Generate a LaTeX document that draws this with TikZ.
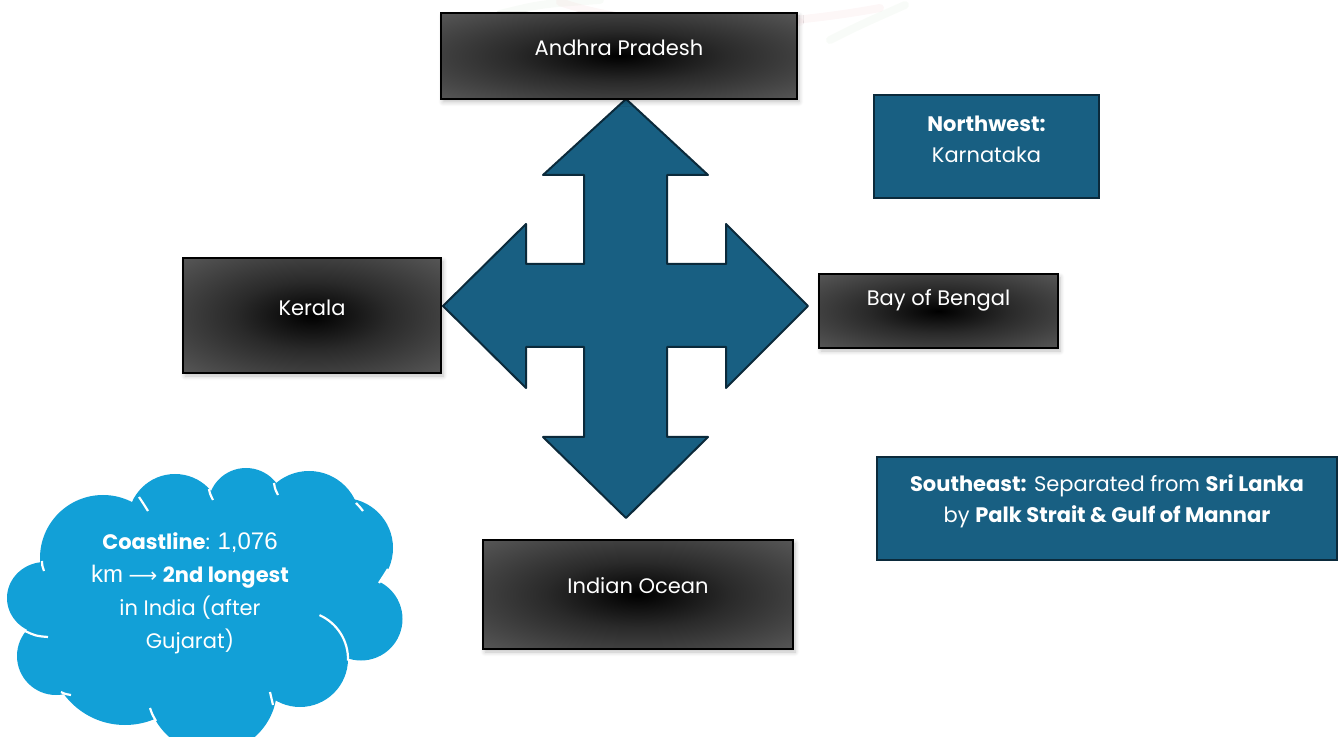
\documentclass[tikz,border=0pt]{standalone}
\usepackage{fontspec}
\setmainfont{Poppins}
\newfontfamily\arialf{Liberation Sans}
\newfontfamily\dejaf{DejaVu Sans}
\usetikzlibrary{shadows.blur}
\definecolor{crossblue}{HTML}{185F82}
\definecolor{crossline}{HTML}{0B2A3B}
\definecolor{cloudblue}{HTML}{12A0D7}
\definecolor{boxgray}{HTML}{5C5C5C}
\definecolor{boxmid}{HTML}{2A2A2A}
\definecolor{wmpink}{HTML}{F3C6CC}
\definecolor{wmgreen}{HTML}{D3E6CF}
\pgfdeclareradialshading{boxshade}{\pgfpoint{0bp}{0bp}}{color(0bp)=(black); color(15bp)=(boxmid); color(38bp)=(boxgray); color(50bp)=(boxgray)}
\begin{document}
\begin{tikzpicture}[x=0.5pt,y=-0.5pt,
  graybox/.style={draw=black, line width=0.8pt, shading=boxshade, inner sep=0pt,
    blur shadow={shadow xshift=1pt, shadow yshift=-1.5pt, shadow blur steps=6, shadow opacity=25}},
  bluebox/.style={draw=crossline, line width=1.2pt, fill=crossblue, inner sep=0pt},
  wtxt/.style={text=white, font=\fontsize{10.5}{15.5}\selectfont, align=center, inner sep=0pt},
  crossst/.style={draw=crossline, line width=1pt, fill=crossblue, line join=round},
  cloudarc/.style={draw=white, line width=1.1pt}
]
\useasboundingbox (0,0) rectangle (1339,737);

% faint watermark at the top
\begin{scope}[line width=4pt, line cap=round, opacity=0.15]
  \draw[wmpink] (560,2) .. controls (640,30) and (760,30) .. (880,8);
  \draw[wmgreen] (500,14) .. controls (540,4) .. (600,0);
  \draw[wmgreen] (830,40) .. controls (860,25) .. (905,5);
  \draw[wmpink!70!white] (700,22) -- (800,22);
\end{scope}

% four-way arrow
\draw[crossst] (626,99) -- (708,175) -- (667,175) -- (667,264) -- (726,264) -- (726,224)
  -- (808,306) -- (726,388) -- (726,347) -- (667,347) -- (667,437) -- (708,437)
  -- (626,518) -- (543,437) -- (584,437) -- (584,347) -- (526,347) -- (526,388)
  -- (443,306) -- (526,224) -- (526,264) -- (584,264) -- (584,175) -- (543,175) -- cycle;

% gray boxes
\node[graybox, minimum width=178pt, minimum height=43pt] (ap) at (619,56) {};
\node[wtxt] (apt) at ([yshift=4pt]ap.center) {Andhra Pradesh};

\node[graybox, minimum width=129pt, minimum height=57.5pt] (ke) at (312,315.5) {};
\node[wtxt] (ket) at ([yshift=4pt]ke.center) {Kerala};

\node[graybox, minimum width=119.5pt, minimum height=37pt] (bb) at (938.5,311) {};
\node[wtxt] (bbt) at ([yshift=5.5pt]bb.center) {Bay of Bengal};

\node[graybox, minimum width=155pt, minimum height=54.5pt] (io) at (638,594.5) {};
\node[wtxt] (iot) at ([yshift=4.5pt]io.center) {Indian Ocean};

% blue boxes
\node[bluebox, minimum width=112.5pt, minimum height=51.5pt] (nw) at (986.5,146.5) {};
\node[wtxt] (nwt) at ([yshift=3.5pt]nw.center) {\textbf{Northwest:}\\Karnataka};

\node[bluebox, minimum width=230pt, minimum height=51.5pt] (se) at (1107,508.5) {};
\node[wtxt] (set) at ([yshift=3.7pt]se.center) {\textbf{Southeast:} Separated from \textbf{Sri Lanka}\\by \textbf{Palk Strait \& Gulf of Mannar}};

% cloud
\begin{scope}
  \fill[cloudblue] (205,600) ellipse[x radius=140, y radius=95];
  \fill[cloudblue] (45,598) ellipse[x radius=38, y radius=36];   % L2
  \fill[cloudblue] (103,558) circle[radius=63];                  % upper left
  \fill[cloudblue] (175,521) circle[radius=47];                  % T1
  \fill[cloudblue] (246,506) circle[radius=38];                  % T2
  \fill[cloudblue] (309,522) circle[radius=51];                  % T3
  \fill[cloudblue] (343,548) circle[radius=50];                  % R1
  \fill[cloudblue] (361,619) circle[radius=41.5];                % R2
  \fill[cloudblue] (300,659) circle[radius=48];                  % B1
  \fill[cloudblue] (212,688) circle[radius=65];                  % B2
  \fill[cloudblue] (125,649) circle[radius=76];                  % B3
  \fill[cloudblue] (56,656) circle[radius=39];                   % L1
  \draw[cloudarc] (139,497) .. controls (143,503) .. (148,511);
  \draw[cloudarc] (209,489) .. controls (210,494) .. (213,500);
  \draw[cloudarc] (274,483) .. controls (275,489) .. (278,495);
  \draw[cloudarc] (356,503) .. controls (359,506) .. (363,511);
  \draw[cloudarc] (379,583) .. controls (383,577) .. (388,569);
  \draw[cloudarc] (300,659) ++(-66:48) arc[start angle=-66, end angle=2, radius=48];
  \draw[cloudarc] (270,692) .. controls (271,698) .. (273,705);
  \draw[cloudarc] (150,708) .. controls (152,714) .. (156,721);
  \draw[cloudarc] (61,692) .. controls (65,694) .. (71,695);
  \draw[cloudarc] (25,631) .. controls (36,636) .. (48,637);
  \draw[cloudarc] (42,561) .. controls (42,565) .. (44,571);
\end{scope}
\node[wtxt, font=\fontsize{10.5}{16.5}\selectfont] (cl) at (190,593) {\textbf{Coastline}: {\arialf\fontsize{12}{16.5}\selectfont 1,076}\\{\arialf\fontsize{12}{16.5}\selectfont km} {\dejaf\fontsize{10}{16.5}\selectfont ⟶} \textbf{2nd longest}\\in India (after\\Gujarat)};
\end{tikzpicture}
\end{document}
